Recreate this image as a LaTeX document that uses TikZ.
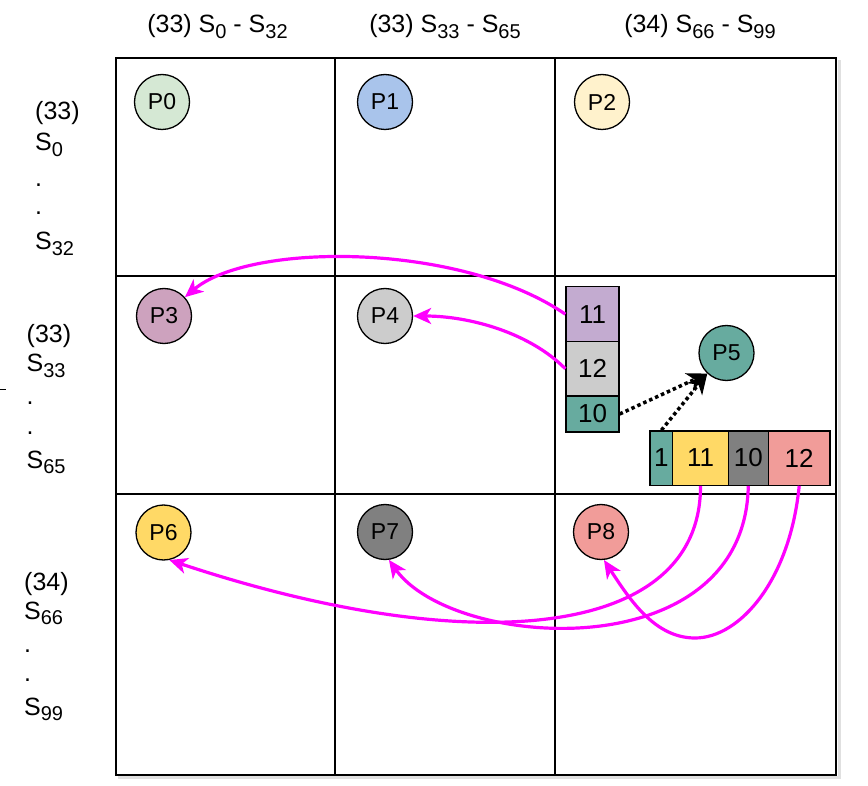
\documentclass[tikz,border=0pt]{standalone}
\usepackage{fontspec}
\usepackage{graphicx}
\setmainfont{Liberation Sans}
\usetikzlibrary{arrows.meta}
\definecolor{cGreen}{HTML}{D5E8D4}
\definecolor{cBlue}{HTML}{A9C4EB}
\definecolor{cCream}{HTML}{FFF2CC}
\definecolor{cMauve}{HTML}{CDA2BE}
\definecolor{cLGray}{HTML}{CCCCCC}
\definecolor{cTeal}{HTML}{67AB9F}
\definecolor{cYellow}{HTML}{FFD966}
\definecolor{cDGray}{HTML}{808080}
\definecolor{cPink}{HTML}{F19C99}
\definecolor{cLav}{HTML}{C3ABD0}
\definecolor{cMag}{HTML}{FF00FF}
\newcommand{\sbs}[1]{\raisebox{-0.23em}{\scalebox{0.8}{#1}}}
\begin{document}
\begin{tikzpicture}[x=1pt,y=-1pt,
  proc/.style={circle, draw=black, line width=1.3pt, minimum size=55pt, inner sep=0pt,
               font=\fontsize{23}{26}\selectfont},
  cellline/.style={draw=black, line width=1.2pt},
  blk/.style={draw=black, line width=1.3pt, inner sep=0pt, font=\fontsize{26}{30}\selectfont},
  hdr/.style={anchor=base, inner sep=0pt, font=\fontsize{25}{30}\selectfont},
  lbl/.style={anchor=base west, inner sep=0pt, font=\fontsize{25}{30}\selectfont},
  mag/.style={draw=cMag, line width=3.2pt, -{Stealth[length=18pt,width=16pt,inset=5pt]}},
  dotarrow/.style={draw=black, line width=3.5pt, dash pattern=on 3.5pt off 3pt,
                   -{Stealth[length=20pt,width=19pt,inset=6pt]}}
]
\useasboundingbox (0,0) rectangle (868,786);

% faint shadow
\draw[black!12, line width=3pt] (839.5,60) -- (839.5,777.5) -- (118,777.5);

% grid
\draw[cellline] (116,58) rectangle (836,775);
\draw[cellline] (335,58) -- (335,775);
\draw[cellline] (555,58) -- (555,775);
\draw[cellline] (116,276) -- (836,276);
\draw[cellline] (116,494) -- (836,494);

% tiny tick at left
\draw[black, line width=0.6pt] (0,389) -- (6,389);

% headers
\node[hdr] (hd1) at (217.5,33) {(33) S\sbs{0} - S\sbs{32}};
\node[hdr] (hd2) at (445,33) {(33) S\sbs{33} - S\sbs{65}};
\node[hdr] (hd3) at (700,33) {(34) S\sbs{66} - S\sbs{99}};

% left labels
\node[lbl] (r1a) at (35,120) {(33)};
\node[lbl] (r1b) at (35,151) {S\sbs{0}};
\node[lbl] (r1c) at (35,187) {.};
\node[lbl] (r1d) at (35,215) {.};
\node[lbl] (r1e) at (35,250) {S\sbs{32}};

\node[lbl] (r2a) at (26.5,343) {(33)};
\node[lbl] (r2b) at (26.5,372) {S\sbs{33}};
\node[lbl] (r2c) at (26.5,405) {.};
\node[lbl] (r2d) at (26.5,434) {.};
\node[lbl] (r2e) at (26.5,468) {S\sbs{65}};

\node[lbl] (r3a) at (24,590) {(34)};
\node[lbl] (r3b) at (24,619) {S\sbs{66}};
\node[lbl] (r3c) at (24,652) {.};
\node[lbl] (r3d) at (24,681) {.};
\node[lbl] (r3e) at (24,715) {S\sbs{99}};

% processes
\node[proc, fill=cGreen]  (P0) at (162,102) {P0};
\node[proc, fill=cBlue]   (P1) at (385,102) {P1};
\node[proc, fill=cCream]  (P2) at (602,102) {P2};
\node[proc, fill=cMauve]  (P3) at (164,316) {P3};
\node[proc, fill=cLGray]  (P4) at (385,316) {P4};
\node[proc, fill=cTeal]   (P5) at (726.5,353) {P5};
\node[proc, fill=cYellow] (P6) at (163.5,532.5) {P6};
\node[proc, fill=cDGray]  (P7) at (385,532) {P7};
\node[proc, fill=cPink]   (P8) at (601,532) {P8};

% vertical stack
\node[blk, fill=cLav,   minimum width=53pt, minimum height=54.7pt] (v11) at (592.5,314.2) {11};
\node[blk, fill=cLGray, minimum width=53pt, minimum height=54.5pt] (v12) at (592.5,368.8) {12};
\node[blk, fill=cTeal,  minimum width=53pt, minimum height=36pt]   (v10) at (592.5,414) {10};

% horizontal row
\node[blk, fill=cTeal,   minimum width=22.7pt, minimum height=54.3pt] (h1)  at (661.4,458) {1};
\node[blk, fill=cYellow, minimum width=55.6pt, minimum height=54.3pt] (h11) at (700.5,458) {11};
\node[blk, fill=cDGray,  minimum width=40pt,   minimum height=54.3pt] (h10) at (748.3,458) {10};
\node[blk, fill=cPink,   minimum width=61.7pt, minimum height=54.3pt] (h12) at (799.2,458) {12};

% dotted arrows to P5
\draw[dotarrow] (v10.east) -- (P5.227);
\draw[dotarrow] (h1.north) -- (P5.227);

% magenta arrows
\draw[mag] (v11.west) .. controls (460,242) and (250,242) .. (P3.42);
\draw[mag] (v12.west) .. controls (530,333) and (470,316) .. (P4.east);
\draw[mag] (h11.south) .. controls (701,640) and (470,660) .. (P6.-78);
\draw[mag] (h10.south) .. controls (745,670) and (453,650) .. (P7.-82);
\draw[mag] (h12.south) .. controls (790,580) and (740,638) .. (695,638)
                       .. controls (655,638) and (630,600) .. (P8.-84);
\end{tikzpicture}
\end{document}
